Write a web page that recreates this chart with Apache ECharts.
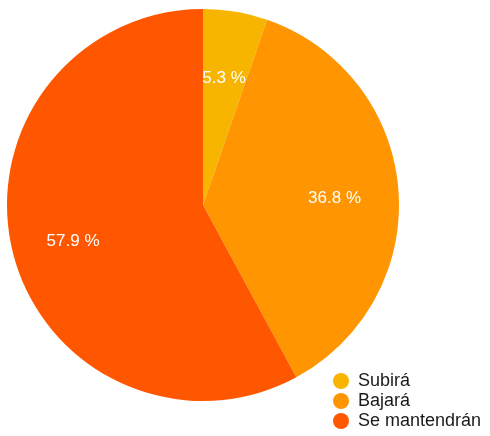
<!DOCTYPE html>
<html>
<head>
<meta charset="utf-8">
<script src="https://cdn.jsdelivr.net/npm/echarts@6/dist/echarts.min.js"></script>
<style>
  html, body { margin: 0; padding: 0; background: #ffffff; }
  #chart { width: 490px; height: 436px; }
</style>
</head>
<body>
<div id="chart"></div>
<script>
// Expectativa de precios: reparto de respuestas
const categories = ['Subirá', 'Bajará', 'Se mantendrán'];
const shares = [5.3, 36.8, 57.9];
const colors = ['#F7B500', '#FF9500', '#FF5700'];

const data = categories.map((name, i) => ({ name, value: shares[i] }));

const chart = echarts.init(document.getElementById('chart'), null, { renderer: 'canvas' });

chart.setOption({
  animation: false,
  color: colors,
  legend: {
    orient: 'vertical',
    left: 333,
    top: 372,
    padding: 0,
    icon: 'circle',
    itemWidth: 16,
    itemHeight: 16,
    itemGap: 2,
    data: categories,
    textStyle: {
      fontFamily: 'Liberation Sans',
      fontSize: 18,
      lineHeight: 17,
      color: '#1a1a1a',
      padding: [0, 0, 0, 4]
    }
  },
  series: [
    {
      type: 'pie',
      center: [203, 205],
      radius: 196,
      startAngle: 90,
      clockwise: true,
      data: data,
      label: { show: false },
      labelLine: { show: false },
      itemStyle: { borderWidth: 0 },
      emphasis: { disabled: true }
    },
    {
      // transparent ring that only carries the percentage labels
      type: 'pie',
      center: [202, 209],
      radius: [64, 196],
      startAngle: 90,
      clockwise: true,
      silent: true,
      data: data,
      itemStyle: { color: 'rgba(0,0,0,0)' },
      label: {
        show: true,
        position: 'inside',
        formatter: p => p.value.toFixed(1) + ' %',
        color: '#ffffff',
        fontFamily: 'Liberation Sans',
        fontSize: 17
      },
      labelLine: { show: false },
      emphasis: { disabled: true }
    }
  ]
});
</script>
</body>
</html>
